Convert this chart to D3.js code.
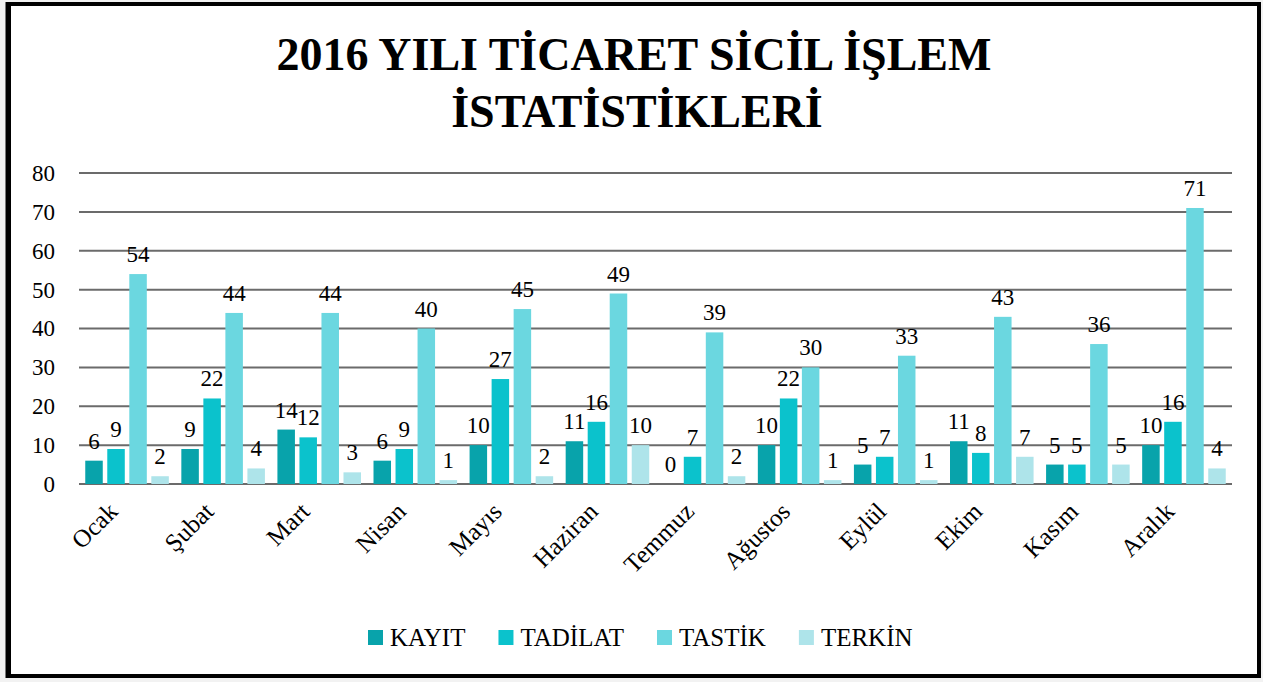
<!DOCTYPE html>
<html>
<head>
<meta charset="utf-8">
<script src="https://cdn.jsdelivr.net/npm/d3@7"></script>
<style>
  body { margin: 0; background: #f2f2f2; }
  svg { display: block; }
  text { font-family: "Liberation Serif", "DejaVu Serif", serif; fill: #000; }
</style>
</head>
<body>
<svg width="1263" height="682"></svg>
<script>
var months = ["Ocak", "Şubat", "Mart", "Nisan", "Mayıs", "Haziran", "Temmuz", "Ağustos", "Eylül", "Ekim", "Kasım", "Aralık"];
var seriesNames = ["KAYIT", "TADİLAT", "TASTİK", "TERKİN"];
var kayit = [6, 9, 14, 6, 10, 11, 0, 10, 5, 11, 5, 10];
var tadilat = [9, 22, 12, 9, 27, 16, 7, 22, 7, 8, 5, 16];
var tastik = [54, 44, 44, 40, 45, 49, 39, 30, 33, 43, 36, 71];
var terkin = [2, 4, 3, 1, 2, 10, 2, 1, 1, 7, 5, 4];
var yTicks = [0, 10, 20, 30, 40, 50, 60, 70, 80];
var colors = ["#08a3ab", "#0bc2cc", "#6bd7e0", "#aee4ea"];

var seriesValues = [kayit, tadilat, tastik, terkin];

var svg = d3.select("svg");

// white chart area with black frame
svg.append("rect")
  .attr("x", 9).attr("y", 4)
  .attr("width", 1250).attr("height", 672)
  .attr("fill", "#fff")
  .attr("stroke", "#000")
  .attr("stroke-width", 4);
svg.append("line")
  .attr("x1", 8).attr("x2", 8).attr("y1", 2).attr("y2", 678)
  .attr("stroke", "#000").attr("stroke-width", 5);

// title
var title = svg.append("text")
  .attr("text-anchor", "middle")
  .attr("font-weight", "bold")
  .attr("font-size", 46);
title.append("tspan").attr("x", 634).attr("y", 70).text("2016 YILI TİCARET SİCİL İŞLEM");
title.append("tspan").attr("x", 637).attr("y", 127).text("İSTATİSTİKLERİ");

var plotLeft = 79, plotRight = 1232, plotTop = 173, plotBottom = 484;

var x0 = d3.scaleBand()
  .domain(months)
  .range([plotLeft, plotRight])
  .padding(0);

var x1 = d3.scaleBand()
  .domain(seriesNames)
  .range([0, x0.bandwidth()])
  .paddingInner(0.205)
  .paddingOuter(0.284);

var y = d3.scaleLinear()
  .domain([0, 80])
  .range([plotBottom, plotTop]);

// gridlines
svg.append("g")
  .selectAll("line")
  .data(yTicks)
  .enter()
  .append("line")
  .attr("x1", plotLeft)
  .attr("x2", plotRight)
  .attr("y1", function(d) { return y(d); })
  .attr("y2", function(d) { return y(d); })
  .attr("stroke", "#6b6b6b")
  .attr("stroke-width", 2);

// y axis labels
var yAxis = d3.axisLeft(y).tickValues(yTicks).tickSize(0).tickPadding(0);
var yg = svg.append("g")
  .attr("transform", "translate(55,0)")
  .call(yAxis);
yg.select(".domain").remove();
yg.selectAll("text")
  .attr("font-size", 23)
  .attr("font-family", "Liberation Serif, serif")
  .attr("fill", "#000");

// flatten data
var bars = [];
months.forEach(function(m, i) {
  seriesNames.forEach(function(s, j) {
    bars.push({ month: m, series: s, value: seriesValues[j][i], color: colors[j] });
  });
});

svg.append("g")
  .selectAll("rect")
  .data(bars)
  .enter()
  .append("rect")
  .attr("x", function(d) { return x0(d.month) + x1(d.series); })
  .attr("y", function(d) { return y(d.value); })
  .attr("width", x1.bandwidth())
  .attr("height", function(d) { return y(0) - y(d.value); })
  .attr("fill", function(d) { return d.color; });

// value labels
svg.append("g")
  .selectAll("text")
  .data(bars)
  .enter()
  .append("text")
  .attr("x", function(d) { return x0(d.month) + x1(d.series) + x1.bandwidth() / 2; })
  .attr("y", function(d) { return y(d.value) - 12; })
  .attr("text-anchor", "middle")
  .attr("font-size", 23)
  .text(function(d) { return d.value; });

// x labels, rotated
svg.append("g")
  .selectAll("text")
  .data(months)
  .enter()
  .append("text")
  .attr("transform", function(d) {
    return "translate(" + (x0(d) + x0.bandwidth() / 2 - 8) + ",513) rotate(-45)";
  })
  .attr("text-anchor", "end")
  .attr("font-size", 25)
  .text(function(d) { return d; });

// legend
var legend = svg.append("g").attr("transform", "translate(0,637)");
var lx = 368;
seriesNames.forEach(function(s, j) {
  legend.append("rect")
    .attr("x", lx).attr("y", -7)
    .attr("width", 15).attr("height", 15)
    .attr("fill", colors[j]);
  var t = legend.append("text")
    .attr("x", lx + 22)
    .attr("y", 9)
    .attr("font-size", 25)
    .text(s);
  lx += 22 + t.node().getComputedTextLength() + 33;
});
</script>
</body>
</html>
